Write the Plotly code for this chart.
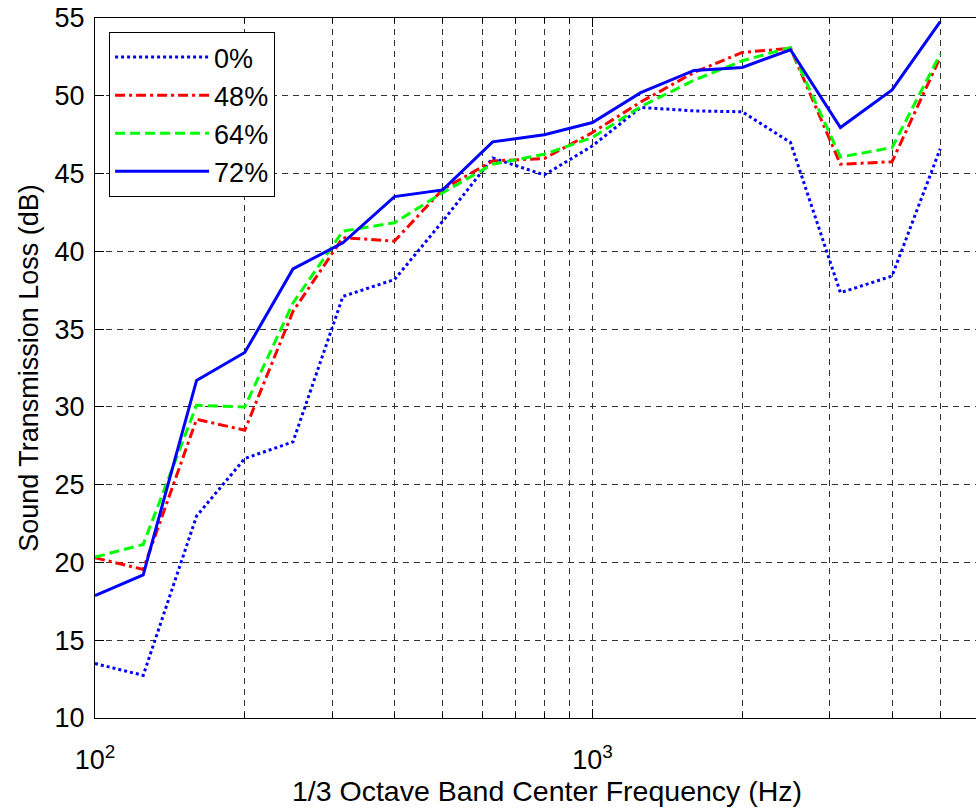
import plotly.graph_objects as go
import math

freqs = [100, 125, 160, 200, 250, 315, 400, 500, 630, 800, 1000,
         1250, 1600, 2000, 2500, 3150, 4000, 5000]

stl_0 = [13.5, 12.74, 22.98, 26.68, 27.75, 37.1, 38.19, 41.94, 46.0, 44.91,
         46.78, 49.25, 49.03, 48.97, 47.0, 37.34, 38.41, 46.6]
stl_48 = [20.3, 19.55, 29.2, 28.5, 36.14, 40.88, 40.66, 43.99, 45.81, 45.97,
          47.64, 49.6, 51.5, 52.79, 53.05, 45.6, 45.76, 52.47]
stl_64 = [20.34, 21.16, 30.1, 30.0, 36.68, 41.3, 41.84, 43.77, 45.6, 46.24,
          47.32, 49.3, 51.0, 52.25, 53.1, 46.06, 46.67, 52.68]
stl_72 = [17.87, 19.2, 31.7, 33.5, 38.87, 40.55, 43.52, 43.95, 47.04, 47.49,
          48.28, 50.2, 51.63, 51.82, 52.96, 47.96, 50.38, 54.76]

series_names = ["0%", "48%", "64%", "72%"]
series_colors = ["#0000FF", "#FF0000", "#00FF00", "#0000FF"]
series_dash = ["3px,3px", "10px,4px,3px,4px", "10px,5px", "solid"]

major_ticks = [100, 1000]
major_text = ["10<sup>2</sup>", "10<sup>3</sup>"]
minor_ticks = [200, 300, 400, 500, 600, 700, 800, 900, 2000, 3000, 4000, 5000, 6000]
y_ticks = [10, 15, 20, 25, 30, 35, 40, 45, 50, 55]

FONT = "Liberation Sans, Arial, Helvetica, sans-serif"
GRID = "#333333"
GDASH = "6px,5px"

fig = go.Figure()
for name, ys, col, dash in zip(series_names, [stl_0, stl_48, stl_64, stl_72],
                               series_colors, series_dash):
    fig.add_trace(go.Scatter(x=freqs, y=ys, mode="lines", name=name,
                             line=dict(color=col, width=3, dash=dash)))

fig.update_layout(
    width=976, height=812,
    margin=dict(l=95, r=0, t=18, b=94, autoexpand=False),
    paper_bgcolor="white", plot_bgcolor="white",
    font=dict(family=FONT, size=27, color="black"),
    showlegend=True,
    legend=dict(x=0.016, y=0.98, xanchor="left", yanchor="top",
                bgcolor="white", bordercolor="black", borderwidth=1,
                font=dict(size=27), itemwidth=94, tracegroupgap=0),
    xaxis=dict(type="log", range=[2, math.log10(5900)],
               tickmode="array", tickvals=major_ticks, ticktext=major_text,
               ticks="inside", ticklen=9, tickcolor="black",
               showline=True, linecolor="black", linewidth=1, mirror="ticks",
               showgrid=True, gridcolor=GRID, griddash=GDASH, gridwidth=1,
               minor=dict(tickmode="array", tickvals=minor_ticks, ticks="inside",
                          ticklen=5, tickcolor="black", showgrid=True,
                          gridcolor=GRID, griddash=GDASH, gridwidth=1),
               zeroline=False, ticklabelstandoff=18, automargin=False),
    yaxis=dict(range=[10, 55], tickmode="array", tickvals=y_ticks,
               ticks="inside", ticklen=9, tickcolor="black",
               showline=True, linecolor="black", linewidth=1,
               showgrid=True, gridcolor=GRID, griddash=GDASH, gridwidth=1,
               zeroline=False, ticklabelstandoff=4, ticklabeloverflow="allow",
               automargin=False,
               title=dict(text="Sound Transmission Loss (dB)", standoff=8,
                          font=dict(size=27))),
    annotations=[dict(text="1/3 Octave Band Center Frequency (Hz)",
                      xref="paper", yref="paper", x=(547 - 95) / 881, y=0,
                      yshift=-55, xanchor="center", yanchor="top",
                      showarrow=False, font=dict(size=28.5))],
)

fig.write_html("out.html", config={"displayModeBar": False},
               post_script="document.body.style.margin='0px';")
